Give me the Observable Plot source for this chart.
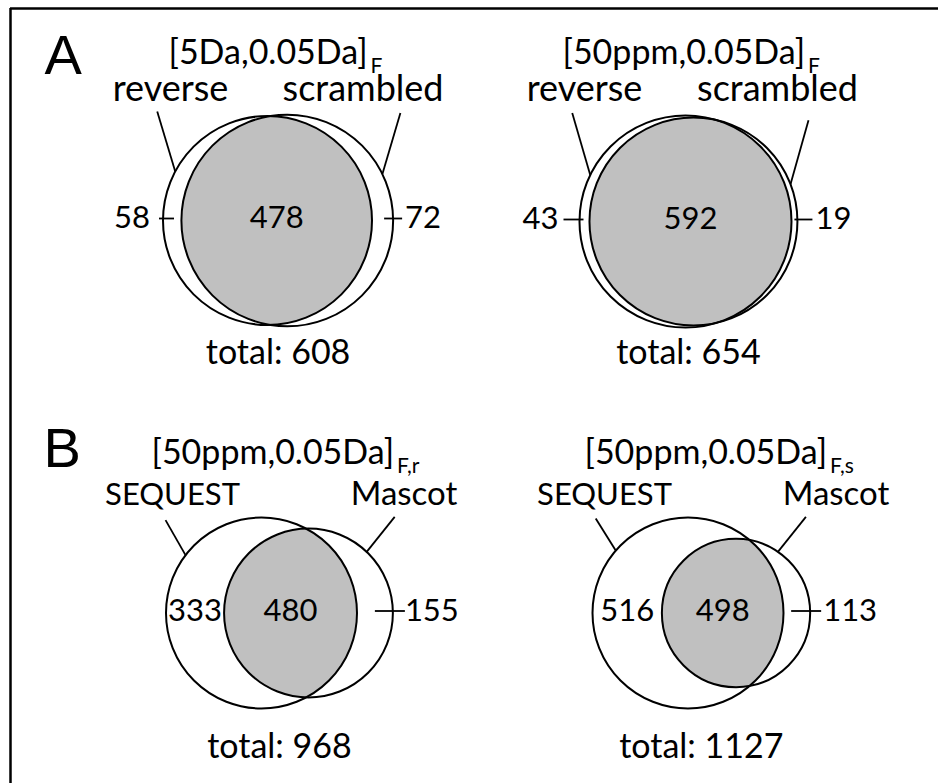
<!DOCTYPE html>
<html><head><meta charset="utf-8">
<script src="https://cdn.jsdelivr.net/npm/d3@7"></script>
<script src="https://cdn.jsdelivr.net/npm/@observablehq/plot@0.6"></script>
<style>
html,body{margin:0;padding:0;background:#fff;}
#chart{width:938px;height:783px;overflow:hidden;}
</style></head><body><div id="chart"></div>
<script>
// ---------- data ----------
const panelLetters = ["A", "B"];
const titles = ["[5Da,0.05Da]", "[50ppm,0.05Da]", "[50ppm,0.05Da]", "[50ppm,0.05Da]"];
const subscripts = ["F", "F", "F,r", "F,s"];
const leftSetNames = ["reverse", "reverse", "SEQUEST", "SEQUEST"];
const rightSetNames = ["scrambled", "scrambled", "Mascot", "Mascot"];
const leftOnly = [58, 43, 333, 516];
const both = [478, 592, 480, 498];
const rightOnly = [72, 19, 155, 113];
const totals = [608, 654, 968, 1127];

// ---------- layout (positions / sizes, not data) ----------
const layout = [
  {cx: 267, cy: 220, R: 104.5, titleX: 168, titleY: 63, nameY: 100, totalY: 363,
   leftNameX: 170, rightNameX: 362.5, leftNameSize: 36, rightNameSize: 36,
   leftLeader: {ang: -152, dx: -18, dy: -60}, rightLeader: {ang: -26, dx: 18, dy: -61},
   leftTick: {inn: 11, out: 4, gap: 9}, rightTick: {inn: 9, out: 9, gap: 3}},
  {cx: 685, cy: 221, R: 106, titleX: 562, titleY: 63, nameY: 100, totalY: 363,
   leftNameX: 584, rightNameX: 777, leftNameSize: 36, rightNameSize: 36,
   leftLeader: {ang: -154, dx: -18, dy: -62}, rightLeader: {ang: -21, dx: 18, dy: -64},
   leftTick: {inn: 4, out: 16, gap: 5}, rightTick: {inn: 3, out: 15, gap: 3}},
  {cx: 261, cy: 612.5, R: 95.5, titleX: 151, titleY: 463, nameY: 504, totalY: 757,
   leftNameX: 172, rightNameX: 403.5, leftNameSize: 31, rightNameSize: 33,
   leftLeader: {ang: -142.7, dx: -20, dy: -35}, rightLeader: {ang: -46.4, dx: 28, dy: -35},
   leftTick: null, rightTick: {inn: 18, out: 12, gap: 0}},
  {cx: 687.5, cy: 612.5, R: 95.5, titleX: 584, titleY: 463, nameY: 504, totalY: 757,
   leftNameX: 604, rightNameX: 835.5, leftNameSize: 31, rightNameSize: 33,
   leftLeader: {ang: -139.2, dx: -20, dy: -32}, rightLeader: {ang: -55.6, dx: 28, dy: -35},
   leftTick: null, rightTick: {inn: 19, out: 11, gap: 2}}
];
const letterPos = [{x: 44, y: 73}, {x: 43, y: 466}];

const FONT = "Lato, 'Open Sans', sans-serif";
const TITLE_SIZE = 34, SUB_SIZE = 21, NUM_SIZE = 31, TOTAL_SIZE = 34;

// ---------- area-proportional Venn geometry ----------
function lensArea(r1, r2, d) {
  if (d >= r1 + r2) return 0;
  if (d <= Math.abs(r1 - r2)) return Math.PI * Math.min(r1, r2) ** 2;
  const a = r1 * r1 * Math.acos((d * d + r1 * r1 - r2 * r2) / (2 * d * r1));
  const b = r2 * r2 * Math.acos((d * d + r2 * r2 - r1 * r1) / (2 * d * r2));
  const c = 0.5 * Math.sqrt((-d + r1 + r2) * (d + r1 - r2) * (d - r1 + r2) * (d + r1 + r2));
  return a + b - c;
}

const circles = [], lensPts = [], texts = [], links = [];
const canvas = document.createElement("canvas").getContext("2d");

for (let i = 0; i < 4; i++) {
  const L = layout[i];
  const nL = leftOnly[i] + both[i], nR = rightOnly[i] + both[i];
  const k = L.R / Math.sqrt(nL);
  const r1 = L.R, r2 = k * Math.sqrt(nR);
  const target = Math.PI * k * k * both[i];
  let lo = Math.abs(r1 - r2) + 1e-6, hi = r1 + r2;
  for (let it = 0; it < 200; it++) {
    const mid = (lo + hi) / 2;
    if (lensArea(r1, r2, mid) > target) lo = mid; else hi = mid;
  }
  const d = (lo + hi) / 2;
  const x1 = L.cx, x2 = L.cx + d, cy = L.cy;
  circles.push({panel: i, set: leftSetNames[i], x: x1, y: cy, r: r1});
  circles.push({panel: i, set: rightSetNames[i], x: x2, y: cy, r: r2});

  // lens polygon (intersection)
  const a = (d * d + r1 * r1 - r2 * r2) / (2 * d);
  const h = Math.sqrt(Math.max(0, r1 * r1 - a * a));
  const al1 = Math.atan2(h, a), al2 = Math.atan2(h, a - d);
  const N = 120;
  for (let j = 0; j <= N; j++) {
    const t = -al1 + (2 * al1) * j / N;
    lensPts.push({panel: i, x: x1 + r1 * Math.cos(t), y: cy + r1 * Math.sin(t)});
  }
  for (let j = 0; j <= N; j++) {
    const t = al2 + (2 * Math.PI - 2 * al2) * j / N;
    lensPts.push({panel: i, x: x2 + r2 * Math.cos(t), y: cy + r2 * Math.sin(t)});
  }

  // leader lines from circle rim to set names
  const lp = L.leftLeader, rp = L.rightLeader;
  const lx = x1 + r1 * Math.cos(lp.ang * Math.PI / 180), ly = cy + r1 * Math.sin(lp.ang * Math.PI / 180);
  const rx = x2 + r2 * Math.cos(rp.ang * Math.PI / 180), ry = cy + r2 * Math.sin(rp.ang * Math.PI / 180);
  links.push({x1: lx, y1: ly, x2: lx + lp.dx, y2: ly + lp.dy});
  links.push({x1: rx, y1: ry, x2: rx + rp.dx, y2: ry + rp.dy});

  const numY = cy - 2;
  const leftEdge = x1 - r1, rightEdge = x2 + r2;
  // left-only count
  if (L.leftTick) {
    links.push({x1: leftEdge - L.leftTick.out, y1: numY, x2: leftEdge + L.leftTick.inn, y2: numY});
    texts.push({x: leftEdge - L.leftTick.out - L.leftTick.gap, y: numY, text: String(leftOnly[i]), anchor: "end", size: NUM_SIZE, la: "middle"});
  } else {
    texts.push({x: (leftEdge + (x2 - r2)) / 2, y: numY, text: String(leftOnly[i]), anchor: "middle", size: NUM_SIZE, la: "middle"});
  }
  // right-only count
  links.push({x1: rightEdge - L.rightTick.inn, y1: numY, x2: rightEdge + L.rightTick.out, y2: numY});
  texts.push({x: rightEdge + L.rightTick.out + L.rightTick.gap, y: numY, text: String(rightOnly[i]), anchor: "start", size: NUM_SIZE, la: "middle"});
  // overlap count (centre of the lens)
  texts.push({x: ((x2 - r2) + (x1 + r1)) / 2, y: numY, text: String(both[i]), anchor: "middle", size: NUM_SIZE, la: "middle"});
  // total
  texts.push({x: (leftEdge + rightEdge) / 2, y: L.totalY, text: "total: " + totals[i], anchor: "middle", size: TOTAL_SIZE, la: "bottom"});
  // set names
  texts.push({x: L.leftNameX, y: L.nameY, text: leftSetNames[i], anchor: "middle", size: L.leftNameSize, la: "bottom"});
  texts.push({x: L.rightNameX, y: L.nameY, text: rightSetNames[i], anchor: "middle", size: L.rightNameSize, la: "bottom"});
  // title with subscript
  canvas.font = `${TITLE_SIZE}px Lato`;
  const tw = canvas.measureText(titles[i]).width;
  texts.push({x: L.titleX, y: L.titleY, text: titles[i], anchor: "start", size: TITLE_SIZE, la: "bottom"});
  texts.push({x: L.titleX + tw + 3, y: L.titleY + 9, text: subscripts[i], anchor: "start", size: SUB_SIZE, la: "bottom"});
}

const letters = panelLetters.map((t, i) => ({text: t, x: letterPos[i].x, y: letterPos[i].y}));

// one text mark per (size, line anchor, text anchor) group
const groups = d3.groups(texts, d => `${d.size}|${d.la}|${d.anchor}`);
const textMarks = groups.map(([key, rows]) => Plot.text(rows, {
  x: "x", y: "y", text: "text", textAnchor: rows[0].anchor, fontSize: rows[0].size,
  fontFamily: FONT, lineAnchor: rows[0].la, fill: "#000"
}));

const chart = Plot.plot({
  width: 938, height: 783,
  margin: 0,
  x: {domain: [0, 938], range: [0, 938], axis: null},
  y: {domain: [0, 783], range: [0, 783], axis: null},
  r: {type: "identity"},
  style: {background: "#fff"},
  marks: [
    Plot.ruleY([8], {x1: 10, x2: 938, stroke: "#000", strokeWidth: 2.5}),
    Plot.ruleX([10], {y1: 8, y2: 783, stroke: "#000", strokeWidth: 2.5}),
    Plot.line(lensPts, {x: "x", y: "y", z: "panel", fill: "#c0c0c0", stroke: "none", curve: "linear"}),
    Plot.dot(circles, {x: "x", y: "y", r: "r", stroke: "#000", strokeWidth: 2, fill: "none"}),
    Plot.link(links, {x1: "x1", y1: "y1", x2: "x2", y2: "y2", stroke: "#000", strokeWidth: 1.8}),
    ...textMarks,
    Plot.text(letters, {x: "x", y: "y", text: "text", textAnchor: "start", lineAnchor: "bottom",
      fontSize: 56, fontFamily: "'Liberation Sans', Arial, sans-serif", fill: "#000"})
  ]
});
document.getElementById("chart").appendChild(chart);
</script></body></html>
